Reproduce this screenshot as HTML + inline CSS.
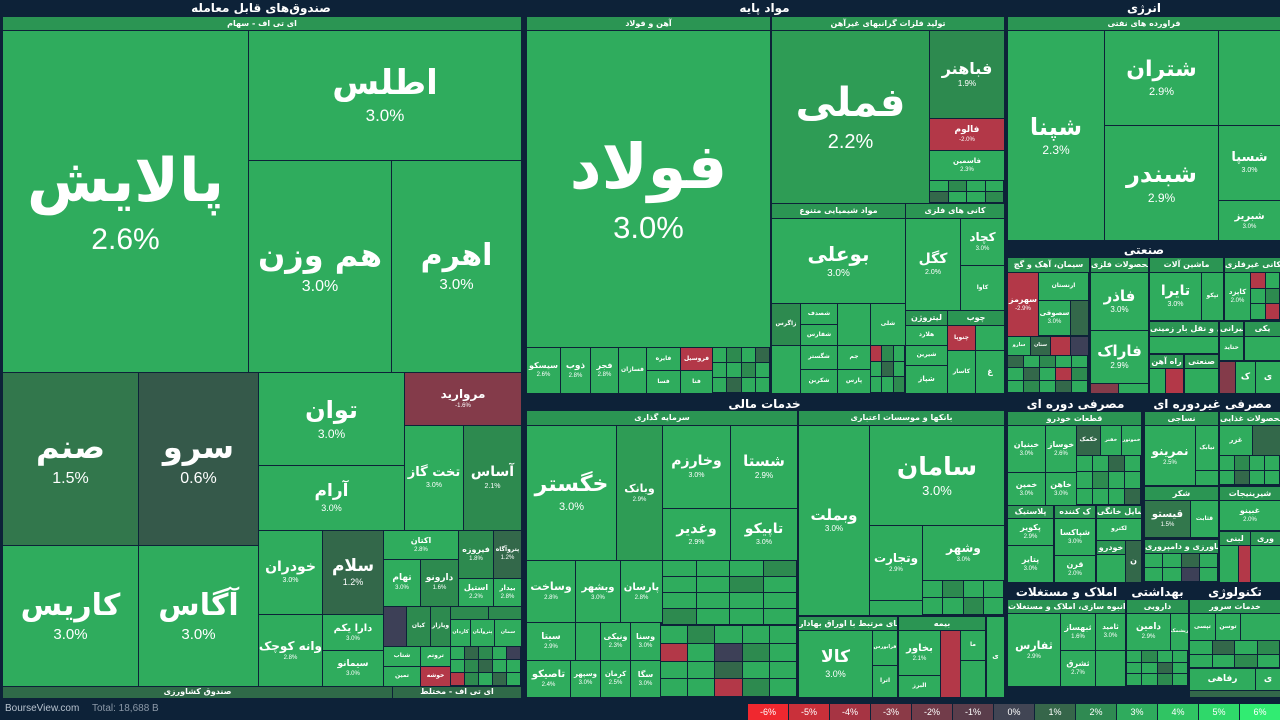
<!DOCTYPE html>
<html><head><meta charset="utf-8">
<style>
html,body{margin:0;padding:0;}
body{width:1280px;height:720px;background:#0d2238;position:relative;overflow:hidden;font-family:"DejaVu Sans","Liberation Sans",sans-serif;}
.t{position:absolute;display:flex;flex-direction:column;align-items:center;justify-content:center;color:#fff;overflow:hidden;text-align:center;line-height:1.1;white-space:nowrap;}
.t b{font-weight:600;}
.t span{font-family:"Liberation Sans",sans-serif;}
.h{position:absolute;color:#fff;font-weight:bold;font-size:12px;text-align:center;line-height:16px;overflow:hidden;white-space:nowrap;}
.s{position:absolute;color:#fff;font-size:8px;font-weight:bold;text-align:center;overflow:hidden;white-space:nowrap;background:#2b9553;}
</style></head><body>
<div id="r"></div>
<div style="position:absolute;left:5px;top:703px;color:#b8c3cf;font-size:10px;font-family:'Liberation Sans',sans-serif">BourseView.com</div>
<div style="position:absolute;left:92px;top:703px;color:#8c99a8;font-size:10px;font-family:'Liberation Sans',sans-serif">Total: 18,688 B</div>
<script>
var G='#2fac5d',g2='#2e9c55',g1='#2d8a4f',G15='#32774c',D='#35594a',D2='#33684a',R='#b33848',DR='#843b4a',N='#3d4057';
var root=document.getElementById('r');
function t(x1,y1,x2,y2,c,n,p,fs){var d=document.createElement('div');d.className='t';
d.style.cssText='left:'+x1+'px;top:'+y1+'px;width:'+(x2-x1)+'px;height:'+(y2-y1)+'px;background:'+c;
if(n){fs=fs||8;d.innerHTML='<b style="font-size:'+fs+'px">'+n+'</b>'+(p?'<span style="font-size:'+Math.max(6,Math.round(fs*0.5))+'px;margin-top:'+Math.round(fs*0.15)+'px">'+p+'</span>':'');}
root.appendChild(d);}
function h(x1,y1,x2,n,fs){var d=document.createElement('div');d.className='h';d.style.cssText='left:'+x1+'px;top:'+y1+'px;width:'+(x2-x1)+'px;font-size:'+(fs||12)+'px';d.textContent=n;root.appendChild(d);}
function s(x1,y1,x2,y2,n){var d=document.createElement('div');d.className='s';d.style.cssText='left:'+x1+'px;top:'+y1+'px;width:'+(x2-x1)+'px;height:'+(y2-y1)+'px;line-height:'+(y2-y1)+'px';d.textContent=n;root.appendChild(d);}
function grid(x1,y1,x2,y2,cols,rows,cs){var w=(x2-x1)/cols,hh=(y2-y1)/rows,k=0;for(var i=0;i<rows;i++)for(var j=0;j<cols;j++){var c=cs[k++%cs.length];t(Math.round(x1+j*w),Math.round(y1+i*hh),Math.round(x1+(j+1)*w)-1,Math.round(y1+(i+1)*hh)-1,c);}}
// ETF
h(0,0,522,'صندوق‌های قابل معامله');
s(3,17,521,30,'ای تی اف - سهام');
t(3,31,248,372,G,'پالایش','2.6%',60);
t(249,31,521,160,G,'اطلس','3.0%',34);
t(249,161,391,372,G,'هم وزن','3.0%',32);
t(392,161,521,372,G,'اهرم','3.0%',30);
t(3,373,138,545,G15,'صنم','1.5%',32);
t(139,373,258,545,D,'سرو','0.6%',32);
t(3,546,138,686,G,'کاریس','3.0%',30);
t(139,546,258,686,G,'آگاس','3.0%',30);
t(259,373,404,465,G,'توان','3.0%',24);
t(405,373,521,425,DR,'مروارید','-1.6%',12);
t(259,466,404,530,G,'آرام','3.0%',17);
t(405,426,463,530,G,'تخت گاز','3.0%',13);
t(464,426,521,530,g1,'آساس','2.1%',14);
t(259,531,322,614,G,'خودران','3.0%',14);
t(323,531,383,614,D2,'سلام','1.2%',17);
t(259,615,322,686,G,'وانه کوچک','2.8%',12);
t(323,615,383,650,G,'دارا یکم','3.0%',10);
t(323,651,383,686,G,'سیمانو','3.0%',9);
t(384,531,458,559,G,'اکتان','2.8%',8);
t(384,560,420,606,G,'تهام','3.0%',9);
t(421,560,458,606,g1,'دارونو','1.6%',9);
t(459,531,493,578,g1,'فیروزه','1.8%',8);
t(494,531,521,578,D2,'پتروآگاه','1.2%',6);
t(459,579,493,606,G,'استیل','2.2%',8);
t(494,579,521,606,G,'بیدار','2.8%',7);
t(384,607,406,646,N,'');t(407,607,430,646,g1,'کیان',null,6);t(431,607,450,646,g1,'ویازار',null,6);
t(451,607,488,619,g1);t(489,607,521,619,g1);
t(451,620,470,646,G,'کاردان',null,5);t(471,620,494,646,G,'پتروآبان',null,5);t(495,620,521,646,G,'سمان',null,5);
t(384,647,420,666,G,'شتاب',null,6);t(384,667,420,686,G,'تمین',null,6);t(421,647,450,666,G,'تروتم',null,6);t(421,667,450,686,R,'خوشه',null,6);
grid(451,647,521,686,5,3,[G,D2,g1,G,N,G,g1,D2,G,G,R,g1,G,D2,G]);
t(3,687,392,698,'#2f6a48','صندوق کشاورزی',null,8);
t(393,687,521,698,'#2f6a48','ای تی اف - مختلط',null,8);
// مواد پایه
h(525,0,1004,'مواد پایه');
s(527,17,770,30,'آهن و فولاد');
t(527,31,770,347,G,'فولاد','3.0%',62);
t(527,348,560,393,G,'سیسکو','2.6%',8);t(561,348,590,393,G,'ذوب','2.8%',9);t(591,348,618,393,G,'فجر','2.8%',8);t(619,348,646,393,G,'فسازان',null,6);
t(647,348,680,370,G,'فایره',null,6);t(681,348,712,370,R,'فروسیل',null,6);t(647,371,680,393,G,'فسا',null,6);t(681,371,712,393,G,'فنا',null,6);
grid(713,348,770,393,4,3,[G,g1,G,D2,G,G,g1,G,G,D2,G,G]);
s(772,17,1004,30,'تولید فلزات گرانبهای غیرآهن');
t(772,31,929,203,g2,'فملی','2.2%',40);
t(930,31,1004,118,g1,'فباهنر','1.9%',16);
t(930,119,1004,150,R,'فالوم','-2.0%',9);
t(930,151,1004,180,G,'فاسمین','2.3%',7);
grid(930,181,1004,203,4,2,[G,g1,G,G,D2,G,G,g1]);
s(772,204,905,218,'مواد شیمیایی متنوع');
t(772,219,905,303,G,'بوعلی','3.0%',20);
t(772,304,800,345,g1,'زاگرس',null,6);t(801,304,837,324,G,'شصدف',null,6);t(801,325,837,345,G,'شفارس',null,6);t(838,304,870,345,G);t(871,304,905,345,G,'شلی',null,6);
t(772,346,800,393,G);t(801,346,837,369,G,'شگستر',null,6);t(801,370,837,393,G,'شکربن',null,6);t(838,346,870,369,G,'جم',null,6);t(838,370,870,393,G,'پارس',null,6);
grid(871,346,905,393,3,3,[R,g1,G,G,D2,G,G,G,g1]);
s(906,204,1004,218,'کانی های فلزی');
t(906,219,960,310,G,'کگل','2.0%',14);
t(961,219,1004,265,G,'کچاد','3.0%',12);
t(961,266,1004,310,G,'کاوا',null,6);
s(906,311,947,325,'لیتروژن');
t(906,326,947,345,G,'هلارد',null,6);t(906,346,947,365,G,'شیرین',null,6);t(906,366,947,393,G,'شپاز',null,7);
s(948,311,1004,325,'چوب');
t(948,326,975,350,R,'چنوپا',null,6);t(976,326,1004,350,G);t(948,351,975,393,G,'کاسار',null,6);t(976,351,1004,393,G,'غ',null,8);
// انرژی
h(1008,0,1280,'انرژی');
s(1008,17,1280,30,'فراورده های نفتی');
t(1008,31,1104,240,G,'شپنا','2.3%',24);
t(1105,31,1218,125,G,'شتران','2.9%',22);
t(1105,126,1218,240,G,'شبندر','2.9%',24);
t(1219,31,1280,125,G);
t(1219,126,1280,200,G,'شسپا','3.0%',13);
t(1219,201,1280,240,G,'شبریز','3.0%',10);
// صنعتی
h(1008,242,1280,'صنعتی');
s(1008,258,1089,272,'سیمان، آهک و گچ');
t(1008,273,1038,336,R,'سهرمز','-2.9%',8);
t(1039,273,1088,300,G,'ارنستان',null,6);t(1039,301,1070,335,G,'سصوفی','3.0%',7);t(1071,301,1088,335,D2);
t(1008,337,1030,355,G,'سارو',null,5);t(1031,337,1050,355,D2,'ستان',null,5);t(1051,337,1070,355,R);t(1071,337,1088,355,N);
grid(1008,356,1088,393,5,3,[D2,G,g1,G,G,G,D2,G,R,g1,G,g1,G,D2,G]);
s(1091,258,1148,272,'محصولات فلزی');
t(1091,273,1148,330,G,'فاذر','3.0%',15);
t(1091,331,1148,383,G,'فاراک','2.9%',15);
t(1091,384,1118,393,DR);t(1119,384,1148,393,G);
s(1150,258,1223,272,'ماشین آلات');
t(1150,273,1201,320,G,'تایرا','3.0%',14);t(1202,273,1223,320,G,'تپکو',null,6);
s(1150,322,1218,336,'حمل و نقل بار زمینی');
t(1150,337,1218,353,G);
s(1150,355,1183,368,'راه آهن');t(1150,369,1165,393,G);t(1166,369,1183,393,R);
s(1185,355,1218,368,'صنعتی');t(1185,369,1218,393,G);
s(1225,258,1280,272,'کانی غیرفلزی');
t(1225,273,1250,320,G,'کاپزد','2.0%',7);grid(1251,273,1280,320,2,3,[R,G,G,g1,G,R]);
s(1220,322,1243,336,'سیرانی');t(1220,337,1243,360,G,'حتاید',null,6);
s(1245,322,1280,336,'یکی');t(1245,337,1280,360,G);
t(1220,362,1235,393,DR);t(1236,362,1255,393,G,'ک',null,9);t(1256,362,1280,393,G,'ی',null,9);
// خدمات مالی
h(525,396,1004,'خدمات مالی');
s(527,411,797,425,'سرمایه گذاری');
t(527,426,616,560,G,'خگستر','3.0%',22);
t(617,426,662,560,g2,'وبانک','2.9%',11);
t(663,426,730,508,G,'وخارزم','3.0%',14);
t(731,426,797,508,G,'شستا','2.9%',15);
t(663,509,730,560,G,'وغدیر','2.9%',14);
t(731,509,797,560,G,'تاپیکو','3.0%',14);
t(527,561,575,622,G,'وساخت','2.8%',11);
t(576,561,620,622,G,'وبشهر','3.0%',10);
t(621,561,662,622,G,'پارسان','2.8%',10);
grid(663,561,797,625,4,4,[G,G,G,g1,G,G,g1,G,G,G,G,G,g1,G,G,G]);
t(527,623,575,660,G,'سیتا','2.9%',9);t(527,661,570,697,G,'تاصیکو','2.4%',10);t(571,661,600,697,G,'وسپهر','3.0%',7);
t(576,623,600,660,G);t(601,623,630,660,G,'ونیکی','2.3%',8);t(601,661,630,697,G,'کرمان','2.5%',7);t(631,623,660,660,G,'وسنا','3.0%',8);t(631,661,660,697,G,'سگا','3.0%',8);
grid(661,626,797,697,5,4,[G,g1,G,G,G,R,G,N,g1,G,G,G,D2,G,G,G,G,R,g1,G]);
s(799,411,1004,425,'بانکها و موسسات اعتباری');
t(870,426,1004,525,G,'سامان','3.0%',25);
t(799,426,869,615,G,'وبملت','3.0%',15);
t(870,526,922,600,G,'وتجارت','2.9%',12);
t(923,526,1004,580,G,'وشهر','3.0%',12);
grid(923,581,1004,615,4,2,[G,g1,G,G,G,G,g1,G]);
t(870,601,922,615,G);
s(799,617,897,630,'فعالیتهای مرتبط با اوراق بهادار');
t(799,631,872,697,G,'کالا','3.0%',17);
t(873,631,897,665,G,'فرابورس',null,5);t(873,666,897,697,G,'اترا',null,6);
s(899,617,985,630,'بیمه');
t(899,631,940,675,G,'بخاور','2.1%',10);t(899,676,940,697,G,'البرز',null,6);
t(941,631,960,697,R);t(961,631,985,660,G,'ما',null,6);t(961,661,985,697,G);
t(987,617,1004,697,G,'ی',null,7);
// مصرفی دوره ای
h(1008,396,1143,'مصرفی دوره ای');
s(1008,412,1141,425,'قطعات خودرو');
t(1008,426,1045,472,G,'خبنیان','3.0%',8);t(1046,426,1076,472,G,'خوساز','2.6%',8);t(1077,426,1100,455,D2,'خکمک',null,6);t(1101,426,1121,455,G,'خفنر',null,5);t(1122,426,1141,455,G,'خموتور',null,5);
t(1008,473,1045,505,G,'خمین','3.0%',8);t(1046,473,1076,505,G,'خاهن','3.0%',8);
grid(1077,456,1141,505,4,3,[G,G,D2,G,G,g1,G,G,G,G,G,D2]);
s(1008,506,1053,518,'پلاستیک');
t(1008,519,1053,545,G,'پکویر','2.9%',8);t(1008,546,1053,582,G,'پتایر','3.0%',8);
s(1055,506,1095,518,'ک کننده');
t(1055,519,1095,555,G,'شپاکسا','3.0%',8);t(1055,556,1095,582,G,'قرن','2.0%',8);
s(1097,506,1141,518,'وسایل خانگی');
t(1097,519,1141,540,G,'لکترو',null,6);
s(1097,541,1125,554,'خودرو');t(1097,555,1125,582,G);
t(1126,541,1141,582,D2,'ن',null,8);
// مصرفی غیردوره ای
h(1145,396,1280,'مصرفی غیردوره ای');
s(1145,412,1218,425,'نساجی');
t(1145,426,1195,485,G,'نمرینو','2.5%',12);t(1196,426,1218,470,G,'نیابک',null,6);t(1196,471,1218,485,G);
s(1220,412,1280,425,'محصولات غذایی');
t(1220,426,1252,455,G,'غزر',null,7);t(1253,426,1280,455,D2);
grid(1220,456,1280,485,4,2,[G,g1,G,G,G,D2,G,G]);
s(1145,487,1218,500,'شکر');
t(1145,501,1190,537,G15,'قیستو','1.5%',10);t(1191,501,1218,537,G,'قثابت',null,6);
s(1145,540,1218,553,'کشاورزی و دامپروری');
grid(1145,554,1218,582,4,2,[G,G,D2,G,G,G,N,G]);
s(1220,487,1280,500,'شیرینیجات');
t(1220,501,1280,530,G,'غبینو','2.0%',8);
s(1220,532,1250,545,'لبنی');t(1220,546,1238,582,G);t(1239,546,1250,582,R);
s(1251,532,1280,545,'وری');t(1251,546,1280,582,G);
// bottom sectors
h(1008,584,1125,'املاک و مستغلات');
h(1127,584,1188,'بهداشتی');
h(1190,584,1280,'تکنولوژی');
s(1008,600,1125,613,'انبوه سازی، املاک و مستغلات');
t(1008,614,1060,686,G,'ثفارس','2.9%',11);
t(1061,614,1095,650,G,'ثبهساز','1.6%',8);t(1096,614,1125,650,G,'ثامید','3.0%',7);
t(1061,651,1095,686,G,'ثشرق','2.7%',8);t(1096,651,1125,686,G);
s(1127,600,1188,613,'دارویی');
t(1127,614,1170,650,G,'دامین','2.9%',9);t(1171,614,1188,650,G,'ریشمک',null,5);
grid(1127,651,1188,686,4,3,[G,g1,G,G,G,G,D2,G,G,G,g1,G]);
s(1190,600,1280,613,'خدمات سرور');
t(1190,614,1215,640,G,'تپسی',null,6);t(1216,614,1240,640,G,'توسن',null,6);t(1241,614,1280,640,G);
grid(1190,641,1280,668,4,2,[G,D2,G,g1,G,G,g1,G]);
t(1190,669,1255,690,G,'رفاهی',null,9);t(1256,669,1280,690,G,'ی',null,9);
t(1190,691,1280,697,D2);
// legend
var lc=['#f0282f','#c9303a','#a63443','#8b3a47','#723c4a','#5a3d4b','#414554','#36664a','#2f8a52','#2fab5d','#30c463','#2fd86a','#31ec72'];
var ll=['-6%','-5%','-4%','-3%','-2%','-1%','0%','1%','2%','3%','4%','5%','6%'];
for(var i=0;i<13;i++){var d=document.createElement('div');d.style.cssText='position:absolute;top:704px;height:16px;left:'+(748+i*41)+'px;width:40px;background:'+lc[i]+';color:#fff;font:9px "Liberation Sans",sans-serif;line-height:16px;text-align:center';d.textContent=ll[i];root.appendChild(d);}
</script>
</body></html>
